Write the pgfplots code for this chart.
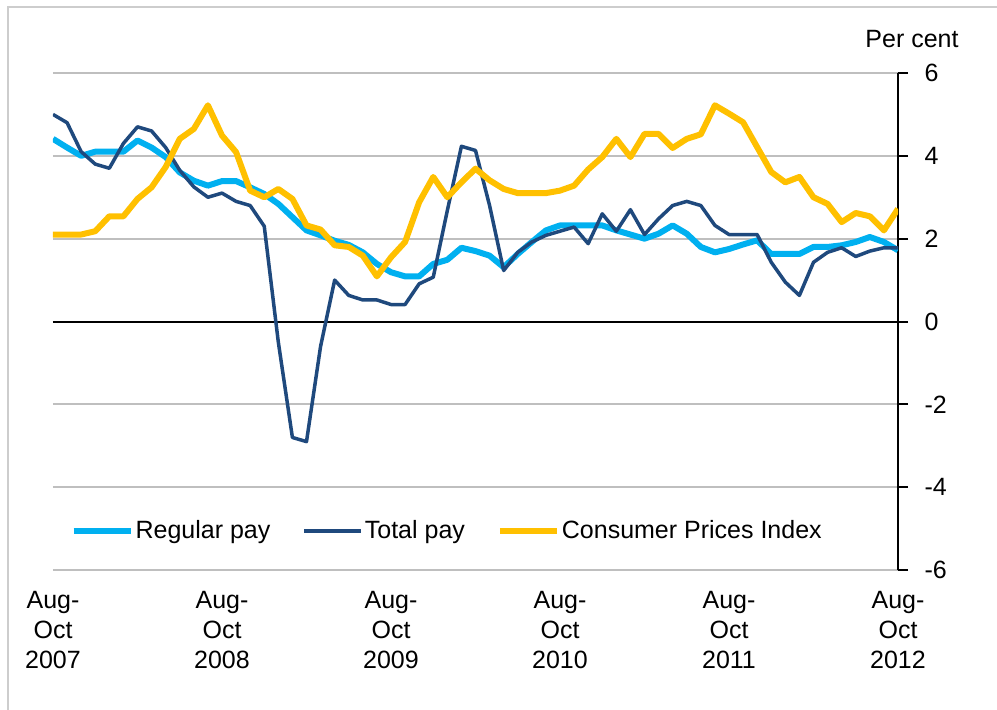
\documentclass[border=0pt]{standalone}
\usepackage{fontspec}
\setmainfont{Liberation Sans}
\usepackage{pgfplots}
\pgfplotsset{compat=1.18}
\definecolor{regblue}{RGB}{0,176,240}
\definecolor{totnavy}{RGB}{31,73,125}
\definecolor{cpiyel}{RGB}{255,192,0}
\definecolor{gridgray}{RGB}{191,191,191}
\definecolor{framegray}{RGB}{205,205,205}
\newcommand{\chartfont}{\fontsize{25}{30}\selectfont}
\begin{document}
\chartfont
\begin{tikzpicture}
\useasboundingbox (0,0) rectangle (997pt,-710pt);
\draw[framegray, line width=2pt] (8pt,-712pt) -- (8pt,-7pt) -- (999pt,-7pt);
\begin{axis}[
  at={(53pt,-570pt)}, anchor=south west,
  scale only axis, width=845pt, height=497pt,
  xmin=0, xmax=60, ymin=-6, ymax=6,
  axis x line*=bottom, axis y line*=right,
  x axis line style={draw=none},
  y axis line style={line width=2pt, black, -},
  ytick={-6,-4,...,6},
  xtick={0,12,24,36,48,60},
  xticklabels={{Aug-\\Oct\\2007},{Aug-\\Oct\\2008},{Aug-\\Oct\\2009},{Aug-\\Oct\\2010},{Aug-\\Oct\\2011},{Aug-\\Oct\\2012}},
  xticklabel style={align=center, font=\chartfont, yshift=-3pt},
  yticklabel style={font=\chartfont, anchor=west, xshift=8pt},
  /pgf/number format/assume math mode=true,
  x tick style={draw=none},
  y tick style={line width=2pt, black},
  tick align=outside, major tick length=10pt,
  ymajorgrids, grid style={gridgray, line width=2pt},
  legend style={at={(rel axis cs:0.017,0.078)}, anchor=west, draw=none, fill=none,
    font=\chartfont, legend columns=3,
    /tikz/every even column/.append style={column sep=30pt}},
  legend image code/.code={\draw[#1] (0pt,0pt) -- (57pt,0pt);},
  line join=round,
]
\addplot[black, line width=2pt, forget plot] coordinates {(0,0) (60,0)};
\addplot[regblue, line width=6pt] table[row sep=\\] {
x y\\
0 4.41\\ 1 4.2\\ 2 4.0\\ 3 4.1\\ 4 4.1\\ 5 4.1\\ 6 4.37\\ 7 4.2\\ 8 3.97\\ 9 3.6\\
10 3.4\\ 11 3.28\\ 12 3.39\\ 13 3.39\\ 14 3.24\\ 15 3.08\\ 16 2.84\\ 17 2.52\\ 18 2.2\\ 19 2.08\\
20 1.95\\ 21 1.85\\ 22 1.67\\ 23 1.39\\ 24 1.19\\ 25 1.09\\ 26 1.09\\ 27 1.39\\ 28 1.49\\ 29 1.78\\
30 1.7\\ 31 1.59\\ 32 1.31\\ 33 1.63\\ 34 1.92\\ 35 2.2\\ 36 2.32\\ 37 2.32\\ 38 2.32\\ 39 2.32\\
40 2.2\\ 41 2.1\\ 42 2.0\\ 43 2.12\\ 44 2.32\\ 45 2.12\\ 46 1.8\\ 47 1.67\\ 48 1.75\\ 49 1.86\\
50 1.96\\ 51 1.63\\ 52 1.63\\ 53 1.63\\ 54 1.8\\ 55 1.8\\ 56 1.84\\ 57 1.92\\ 58 2.04\\ 59 1.92\\
60 1.72\\
};
\addlegendentry{Regular pay}
\addplot[totnavy, line width=3.5pt] table[row sep=\\] {
x y\\
0 5.0\\ 1 4.8\\ 2 4.1\\ 3 3.8\\ 4 3.7\\ 5 4.3\\ 6 4.7\\ 7 4.6\\ 8 4.2\\ 9 3.65\\
10 3.25\\ 11 3.0\\ 12 3.1\\ 13 2.9\\ 14 2.8\\ 15 2.3\\ 16 -0.5\\ 17 -2.8\\ 18 -2.9\\ 19 -0.6\\
20 1.0\\ 21 0.63\\ 22 0.52\\ 23 0.52\\ 24 0.41\\ 25 0.41\\ 26 0.91\\ 27 1.07\\ 28 2.68\\ 29 4.23\\
30 4.13\\ 31 2.8\\ 32 1.23\\ 33 1.67\\ 34 1.92\\ 35 2.08\\ 36 2.18\\ 37 2.28\\ 38 1.88\\ 39 2.6\\
40 2.18\\ 41 2.7\\ 42 2.1\\ 43 2.48\\ 44 2.8\\ 45 2.9\\ 46 2.8\\ 47 2.32\\ 48 2.1\\ 49 2.1\\
50 2.1\\ 51 1.43\\ 52 0.95\\ 53 0.63\\ 54 1.43\\ 55 1.67\\ 56 1.78\\ 57 1.57\\ 58 1.7\\ 59 1.78\\
60 1.78\\
};
\addlegendentry{Total pay}
\addplot[cpiyel, line width=6pt] table[row sep=\\] {
x y\\
0 2.1\\ 1 2.1\\ 2 2.1\\ 3 2.18\\ 4 2.54\\ 5 2.54\\ 6 2.96\\ 7 3.24\\ 8 3.73\\ 9 4.41\\
10 4.65\\ 11 5.22\\ 12 4.49\\ 13 4.09\\ 14 3.16\\ 15 3.0\\ 16 3.2\\ 17 2.96\\ 18 2.32\\ 19 2.22\\
20 1.84\\ 21 1.8\\ 22 1.59\\ 23 1.09\\ 24 1.55\\ 25 1.92\\ 26 2.88\\ 27 3.49\\ 28 3.0\\ 29 3.36\\
30 3.69\\ 31 3.41\\ 32 3.2\\ 33 3.1\\ 34 3.1\\ 35 3.1\\ 36 3.16\\ 37 3.28\\ 38 3.67\\ 39 3.97\\
40 4.41\\ 41 3.97\\ 42 4.53\\ 43 4.53\\ 44 4.19\\ 45 4.41\\ 46 4.52\\ 47 5.22\\ 48 5.02\\ 49 4.81\\
50 4.21\\ 51 3.61\\ 52 3.36\\ 53 3.49\\ 54 3.0\\ 55 2.84\\ 56 2.4\\ 57 2.62\\ 58 2.54\\ 59 2.2\\
60 2.72\\
};
\addlegendentry{Consumer Prices Index}
\end{axis}
\node[font=\chartfont] at (912pt,-39pt) {Per cent};
\end{tikzpicture}
\end{document}
